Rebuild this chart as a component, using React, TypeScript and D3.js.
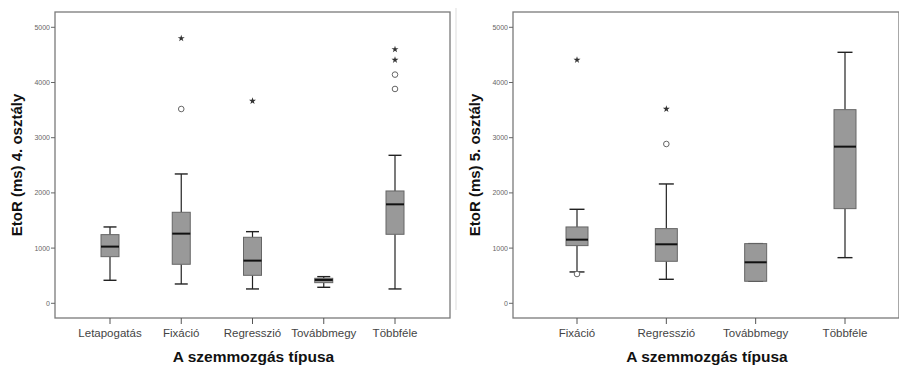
import React from "react";
import * as d3 from "d3";

// 4. osztály
const cats4 = ["Letapogatás", "Fixáció", "Regresszió", "Továbbmegy", "Többféle"];
const wLow4 = [417, 350, 260, 290, 260];
const q1_4 = [845, 707, 507, 374, 1250];
const med4 = [1027, 1262, 773, 423, 1793];
const q3_4 = [1244, 1649, 1196, 453, 2035];
const wHigh4 = [1383, 2343, 1298, 483, 2681];
const circles4 = [[], [3520], [], [], [3883, 4143]];
const stars4 = [[], [4800], [3665], [], [4408, 4601]];

// 5. osztály
const cats5 = ["Fixáció", "Regresszió", "Továbbmegy", "Többféle"];
const wLow5 = [568, 435, 399, 827];
const q1_5 = [1045, 761, 399, 1715];
const med5 = [1153, 1069, 743, 2838];
const q3_5 = [1383, 1353, 1081, 3508];
const wHigh5 = [1703, 2162, 1081, 4547];
const circles5 = [[531], [2886], [], []];
const stars5 = [[4408], [3520], [], []];

const yTicks = [0, 1000, 2000, 3000, 4000, 5000];

type PanelProps = {
  left: number;
  right: number;
  xFirst: number;
  xLast: number;
  boxW: number;
  cats: string[];
  wLow: number[];
  q1: number[];
  med: number[];
  q3: number[];
  wHigh: number[];
  circles: number[][];
  stars: number[][];
  yLabel: string;
  yLabelX: number;
};

const top = 12;
const bottom = 318;
const font = "Arial, 'Liberation Sans', sans-serif";

function Panel(p: PanelProps) {
  const y = d3.scaleLinear().domain([0, 5000]).range([303.3, 27.3]);
  const x = d3.scalePoint<string>().domain(p.cats).range([p.xFirst, p.xLast]);
  const star = d3.symbol().type(d3.symbolStar).size(15)();
  const cap = p.boxW / 2;
  return (
    <g>
      <rect x={p.left} y={top} width={p.right - p.left} height={bottom - top}
        fill="#fff" stroke="#7a7a7a" strokeWidth={1.3} />
      {yTicks.map((t) => (
        <g key={t}>
          <line x1={p.left - 4} x2={p.left} y1={y(t)} y2={y(t)} stroke="#666" />
          <text x={p.left - 5} y={y(t)} dy="0.35em" textAnchor="end"
            fontSize={7} fill="#666" fontFamily={font}>{t}</text>
        </g>
      ))}
      {p.cats.map((c, i) => {
        const cx = x(c)!;
        return (
          <g key={c}>
            <line x1={cx} x2={cx} y1={bottom} y2={bottom + 6} stroke="#555" />
            <text x={cx} y={337} textAnchor="middle" fontSize={11.5} fill="#444"
              fontFamily={font}>{c}</text>
            <line x1={cx} x2={cx} y1={y(p.wLow[i])} y2={y(p.q1[i])} stroke="#222" strokeWidth={1.2} />
            <line x1={cx} x2={cx} y1={y(p.q3[i])} y2={y(p.wHigh[i])} stroke="#222" strokeWidth={1.2} />
            <line x1={cx - cap / 2 - 2} x2={cx + cap / 2 + 2} y1={y(p.wLow[i])} y2={y(p.wLow[i])} stroke="#222" strokeWidth={1.4} />
            <line x1={cx - cap / 2 - 2} x2={cx + cap / 2 + 2} y1={y(p.wHigh[i])} y2={y(p.wHigh[i])} stroke="#222" strokeWidth={1.4} />
            <rect x={cx - p.boxW / 2} y={y(p.q3[i])} width={p.boxW}
              height={y(p.q1[i]) - y(p.q3[i])} fill="#999" stroke="#666" strokeWidth={1} />
            <line x1={cx - p.boxW / 2} x2={cx + p.boxW / 2} y1={y(p.med[i])} y2={y(p.med[i])}
              stroke="#111" strokeWidth={2} />
            {p.circles[i].map((v) => (
              <circle key={"c" + v} cx={cx} cy={y(v)} r={2.8} fill="#fff" stroke="#666" strokeWidth={1} />
            ))}
            {p.stars[i].map((v) => (
              <path key={"s" + v} d={star!} transform={`translate(${cx},${y(v)})`} fill="#333" />
            ))}
          </g>
        );
      })}
      <text transform={`translate(${p.yLabelX},165) rotate(-90)`} textAnchor="middle"
        dy="0.35em" fontSize={15} fontWeight="bold" fill="#111" fontFamily={font}>{p.yLabel}</text>
      <text x={(p.left + p.right) / 2 + 1} y={362} textAnchor="middle" fontSize={15.5}
        fontWeight="bold" fill="#111" fontFamily={font}>A szemmozgás típusa</text>
    </g>
  );
}

export default function App() {
  return (
    <svg width={899} height={366} style={{ position: "absolute", left: 0, top: 0, background: "#fff" }}>
      <rect width={899} height={366} fill="#fff" />
      <Panel left={55} right={450} xFirst={110} xLast={395} boxW={18}
        cats={cats4} wLow={wLow4} q1={q1_4} med={med4} q3={q3_4} wHigh={wHigh4}
        circles={circles4} stars={stars4} yLabel="EtoR (ms) 4. osztály" yLabelX={17} />
      <line x1={456} x2={456} y1={8} y2={310} stroke="#ddd" strokeWidth={1} />
      <Panel left={513} right={899} xFirst={577} xLast={845} boxW={22}
        cats={cats5} wLow={wLow5} q1={q1_5} med={med5} q3={q3_5} wHigh={wHigh5}
        circles={circles5} stars={stars5} yLabel="EtoR (ms) 5. osztály" yLabelX={475} />
    </svg>
  );
}
